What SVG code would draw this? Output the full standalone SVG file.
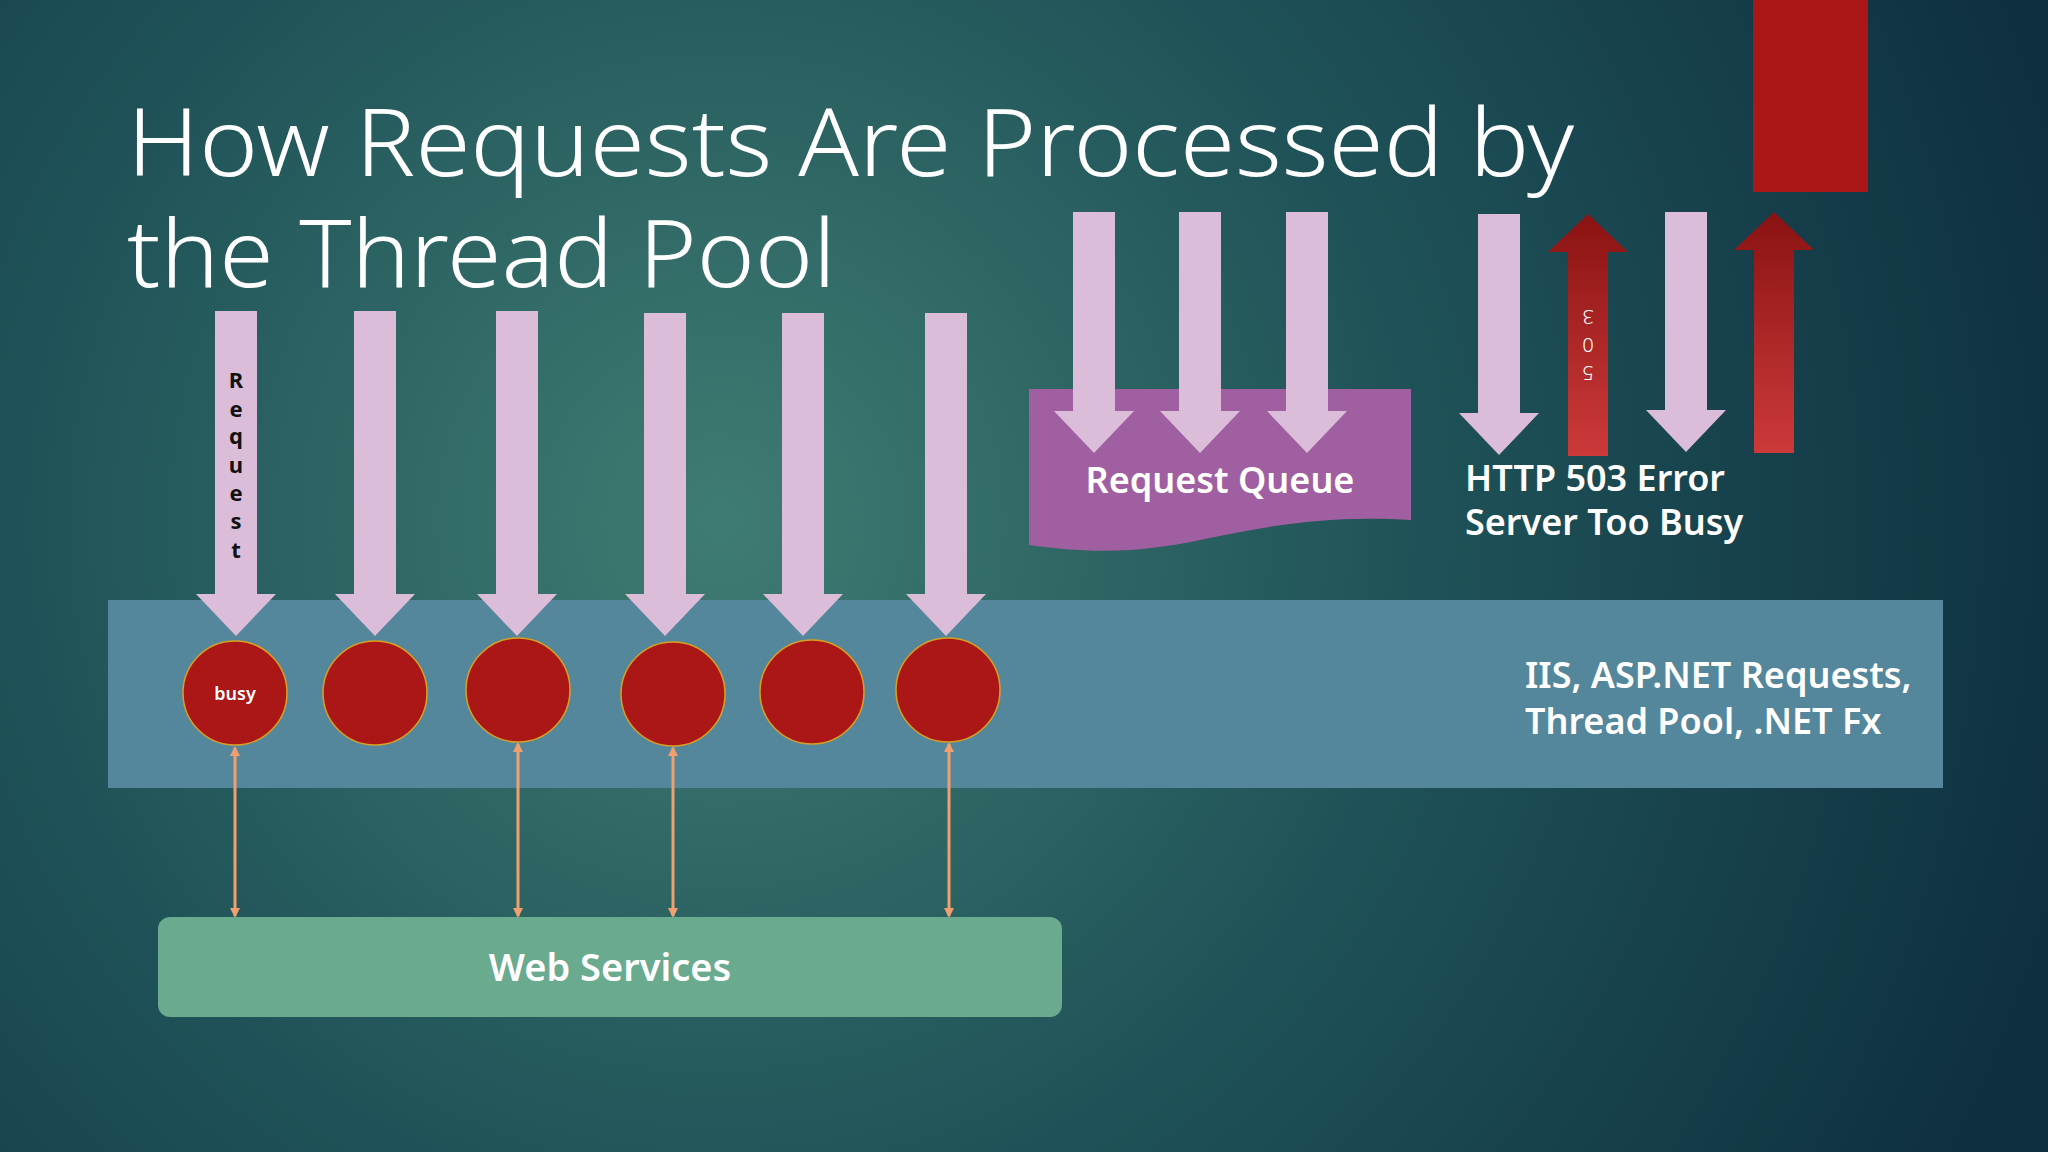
<svg xmlns="http://www.w3.org/2000/svg" width="2048" height="1152" viewBox="0 0 2048 1152">
<defs>
<radialGradient id="bg" cx="720" cy="520" r="1400" gradientUnits="userSpaceOnUse">
<stop offset="0" stop-color="#3f7c72"/><stop offset="0.5" stop-color="#1f5258"/><stop offset="1" stop-color="#0e2f40"/>
</radialGradient>
<linearGradient id="red" x1="0" y1="0" x2="0" y2="1">
<stop offset="0" stop-color="#8a1212"/><stop offset="1" stop-color="#cc3a3a"/>
</linearGradient>
<marker id="oa" markerWidth="10" markerHeight="10" refX="8" refY="5" orient="auto-start-reverse" markerUnits="userSpaceOnUse"><path d="M0,0 L10,5 L0,10 z" fill="#f0a070"/></marker>
<style>
.down{fill:#dbbdd9}
.up{fill:url(#red)}
.th{fill:#ab1616;stroke:#d9a020;stroke-width:1.5}
.lbl{font-family:"Noto Sans","Open Sans",sans-serif;font-weight:600;fill:#fff}
.conn{stroke:#f0a070;stroke-width:3;fill:none}
</style>
</defs>
<rect width="2048" height="1152" fill="url(#bg)"/>
<g id="title" font-family="'Noto Sans',sans-serif" font-weight="300" fill="#fff" font-size="94">
<text x="127" y="176" textLength="1447" lengthAdjust="spacingAndGlyphs">How Requests Are Processed by</text>
<text x="127" y="287" textLength="709" lengthAdjust="spacingAndGlyphs">the Thread Pool</text>
</g>
<rect id="blocked" x="1753" y="0" width="115" height="192" fill="#ab1616"/>
<g id="band"><rect x="108" y="600" width="1835" height="188" fill="#55879c"/>
<text class="lbl" x="1525" y="688" font-size="36">IIS, ASP.NET Requests,</text>
<text class="lbl" x="1525" y="734" font-size="36">Thread Pool, .NET Fx</text></g>
<g id="queue"><path d="M1029,389 H1411 V520 C1330,515 1270,525 1200,540 C1130,555 1080,552 1029,545 Z" fill="#a05fa0"/>
<text class="lbl" x="1220" y="493" font-size="36" text-anchor="middle">Request Queue</text></g>
<g id="requests">
<path class="down" d="M215,311 h42 v283 h19 l-40,42 l-40,-42 h19 z"/>
<path class="down" d="M354,311 h42 v283 h19 l-40,42 l-40,-42 h19 z"/>
<path class="down" d="M496,311 h42 v283 h19 l-40,42 l-40,-42 h19 z"/>
<path class="down" d="M644,313 h42 v281 h19 l-40,42 l-40,-42 h19 z"/>
<path class="down" d="M782,313 h42 v281 h19 l-40,42 l-40,-42 h19 z"/>
<path class="down" d="M925,313 h42 v281 h19 l-40,42 l-40,-42 h19 z"/>
<path class="down" d="M1073,212 h42 v199 h19 l-40,42 l-40,-42 h19 z"/>
<path class="down" d="M1179,212 h42 v199 h19 l-40,42 l-40,-42 h19 z"/>
<path class="down" d="M1286,212 h42 v199 h19 l-40,42 l-40,-42 h19 z"/>
<path class="down" d="M1478,214 h42 v199 h19 l-40,42 l-40,-42 h19 z"/>
<path class="down" d="M1665,212 h42 v198 h19 l-40,42 l-40,-42 h19 z"/>
<g font-family="'Noto Sans',sans-serif" font-weight="700" font-size="22" fill="#111" text-anchor="middle">
<text x="236" y="388">R</text><text x="236" y="417">e</text><text x="236" y="444">q</text><text x="236" y="473">u</text><text x="236" y="501">e</text><text x="236" y="529">s</text><text x="236" y="558">t</text>
</g>
</g>
<g id="rejects">
<path class="up" d="M1568,456 v-204 h-20 l40,-38 l40,38 h-20 v204 z"/>
<path class="up" d="M1754,453 v-203 h-20 l40,-38 l40,38 h-20 v203 z"/>
<g font-family="'Noto Sans',sans-serif" font-weight="300" font-size="20" fill="#fff" text-anchor="middle">
<text transform="translate(1588,310) rotate(180)">3</text>
<text transform="translate(1588,338) rotate(180)">0</text>
<text transform="translate(1588,366) rotate(180)">5</text>
</g>
<text class="lbl" x="1465" y="491" font-size="36">HTTP 503 Error</text>
<text class="lbl" x="1465" y="535" font-size="36">Server Too Busy</text>
</g>
<g id="threads">
<circle class="th" cx="235" cy="693" r="52"/><text class="lbl" x="235" y="700" font-size="18" font-weight="500" text-anchor="middle">busy</text>
<circle class="th" cx="375" cy="693" r="52" stroke="none"/>
<circle class="th" cx="518" cy="690" r="52"/>
<circle class="th" cx="673" cy="694" r="52"/>
<circle class="th" cx="812" cy="692" r="52"/>
<circle class="th" cx="948" cy="690" r="52"/>
</g>
<g id="connectors">
<line class="conn" x1="235" y1="748" x2="235" y2="916" marker-start="url(#oa)" marker-end="url(#oa)"/>
<line class="conn" x1="518" y1="744" x2="518" y2="916" marker-start="url(#oa)" marker-end="url(#oa)"/>
<line class="conn" x1="673" y1="748" x2="673" y2="916" marker-start="url(#oa)" marker-end="url(#oa)"/>
<line class="conn" x1="949" y1="744" x2="949" y2="916" marker-start="url(#oa)" marker-end="url(#oa)"/>
</g>
<g id="web"><rect x="158" y="917" width="904" height="100" rx="12" fill="#6aaa8f"/>
<text class="lbl" x="610" y="981" font-size="38" text-anchor="middle">Web Services</text></g>
</svg>
